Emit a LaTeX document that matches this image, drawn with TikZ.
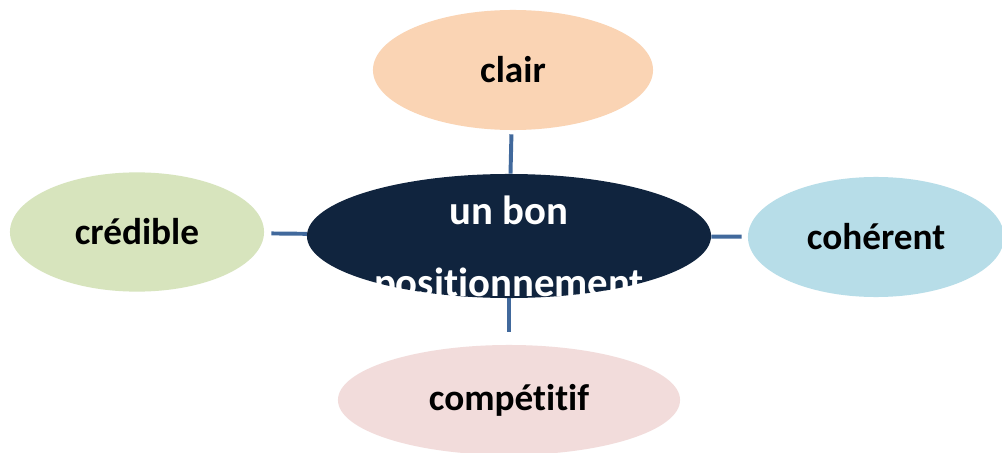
\documentclass[tikz,border=0pt]{standalone}
\usepackage{fontspec}
\setmainfont{Carlito}[Ligatures=NoCommon]
\usepackage{tikz}
\usetikzlibrary{shapes.geometric}
\definecolor{hubcol}{HTML}{10243E}
\definecolor{linkcol}{HTML}{41699C}
\definecolor{clairfill}{HTML}{FAD4B4}
\definecolor{credfill}{HTML}{D7E4BD}
\definecolor{cohfill}{HTML}{B7DDE8}
\definecolor{compfill}{HTML}{F2DCDB}

\begin{document}
\begin{tikzpicture}[x=0.025cm, y=-0.025cm,
            leaf/.style={ellipse, draw=none, inner sep=0pt,
                         font=\fontsize{26.5}{30}\selectfont\bfseries},
            link/.style={draw=linkcol, line width=2.8pt}]
        \useasboundingbox (0,0) rectangle (1002,453);
        \fill[white] (0,0) rectangle (1002,453);
        % centre and the four qualities
        \node[ellipse, fill=hubcol, minimum width=10.1cm, minimum height=3.1cm] (hub) at (509,236) {};
        \node[leaf, fill=clairfill, minimum width=7cm,   minimum height=3cm]    (clair) at (513,70) {clair};
        \node[leaf, fill=credfill,  minimum width=6.35cm, minimum height=2.98cm] (cred) at (137,232) {crédible};
        \node[leaf, fill=cohfill,   minimum width=6.4cm, minimum height=3cm]    (coh) at (876,237) {cohérent};
        \node[leaf, fill=compfill,  minimum width=8.55cm, minimum height=2.75cm] (comp) at (509,400) {compétitif};
        \node[anchor=base, align=center, text=white,
              font=\fontsize{29}{50.5}\selectfont\bfseries] (hubtxt) at (509,296) {un bon\\positionnement};
        \draw[link, shorten >=0.1cm]  (hub) -- (clair);
        \draw[link, shorten >=0.18cm] (hub) -- (cred);
        \draw[link, shorten >=0.15cm] (hub) -- (coh);
        \draw[link, shorten >=0.33cm] (hub) -- (comp);
      \end{tikzpicture}
\end{document}
